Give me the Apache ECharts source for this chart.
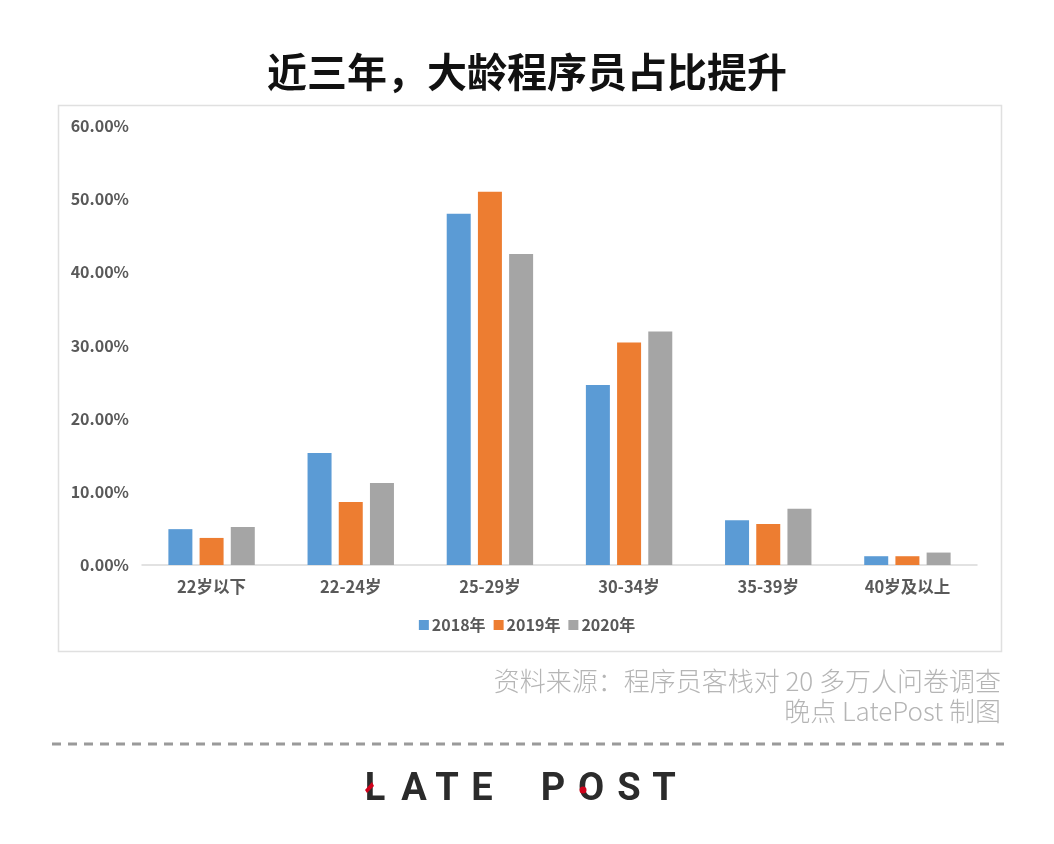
<!DOCTYPE html>
<html><head><meta charset="utf-8">
<script src="https://cdn.jsdelivr.net/npm/echarts@6/dist/echarts.min.js"></script>
<style>html,body{margin:0;padding:0;background:#fff}#c{width:1054px;height:844px}</style>
</head><body><div id="c"></div>
<script>
const categories = ['22岁以下','22-24岁','25-29岁','30-34岁','35-39岁','40岁及以上'];
const seriesNames = ['2018年','2019年','2020年'];
const v2018 = [4.9, 15.3, 48.0, 24.6, 6.1, 1.2];
const v2019 = [3.7, 8.6, 51.0, 30.4, 5.6, 1.2];
const v2020 = [5.2, 11.2, 42.5, 31.9, 7.7, 1.7];
const colors = ['#5b9bd5','#ed7d31','#a5a5a5'];
const F = '"Noto Sans CJK SC","Noto Sans",sans-serif';
const chart = echarts.init(document.getElementById('c'));
const mk = (name, data, i) => ({name, type:'bar', data, barWidth:24, barGap:'30%', itemStyle:{color:colors[i]}});
const logo = [['L',375],['A',414],['T',447],['E',482],['P',553],['O',591],['S',629],['T',664]];
chart.setOption({
  animation:false,
  backgroundColor:'#fff',
  title:{text:'近三年，大龄程序员占比提升', left:'center', top:47, textStyle:{fontFamily:F, fontSize:40, fontWeight:'bold', color:'#111'}},
  legend:{data:seriesNames, bottom:206, left:'center', itemWidth:10, itemHeight:10, itemGap:8, icon:'rect',
    textStyle:{fontFamily:F, fontSize:16, color:'#595959', fontWeight:'bold', padding:[0,0,0,-2]}},
  grid:{left:142, right:77, top:126, bottom:279},
  xAxis:{type:'category', data:categories, axisLine:{lineStyle:{color:'#d9d9d9', width:1.5}}, axisTick:{show:false},
    axisLabel:{fontFamily:F, fontSize:16.5, color:'#595959', fontWeight:'bold', margin:13}},
  yAxis:{type:'value', min:0, max:60, interval:10, splitLine:{show:false}, axisLine:{show:false}, axisTick:{show:false},
    axisLabel:{formatter:v=>v.toFixed(2)+'%', fontFamily:F, fontSize:16, color:'#595959', fontWeight:'bold', margin:13}},
  series:[mk(seriesNames[0],v2018,0), mk(seriesNames[1],v2019,1), mk(seriesNames[2],v2020,2)],
  graphic:[
    {type:'rect', shape:{x:58.5, y:105.5, width:943, height:546}, style:{fill:'none', stroke:'#e0e0e0', lineWidth:1.5}, z:-1},
    {type:'text', right:53, top:668, style:{text:'资料来源：程序员客栈对 20 多万人问卷调查', font:'300 26px '+F, fill:'#b5b5b5', textAlign:'right'}},
    {type:'text', right:53, top:698, style:{text:'晚点 LatePost 制图', font:'300 26px '+F, fill:'#b5b5b5', textAlign:'right'}},
    {type:'line', shape:{x1:52, y1:744, x2:1004, y2:744}, style:{stroke:'#9a9a9a', lineWidth:3, lineDash:[9,7]}}
  ].concat(logo.map(([ch,x]) => ({type:'text', x, y:790, style:{text:ch, font:'bold 38px Roboto,"DejaVu Sans",sans-serif', fill:'#2b2b2b', textAlign:'center', textVerticalAlign:'middle'}})))
   .concat([
    {type:'polygon', shape:{points:[[365,790],[372,782],[374,786],[367,793]]}, style:{fill:'#d0021b'}, z:10},
    {type:'circle', shape:{cx:583, cy:790, r:3.5}, style:{fill:'#d0021b'}, z:10}
  ])
});
</script></body></html>
